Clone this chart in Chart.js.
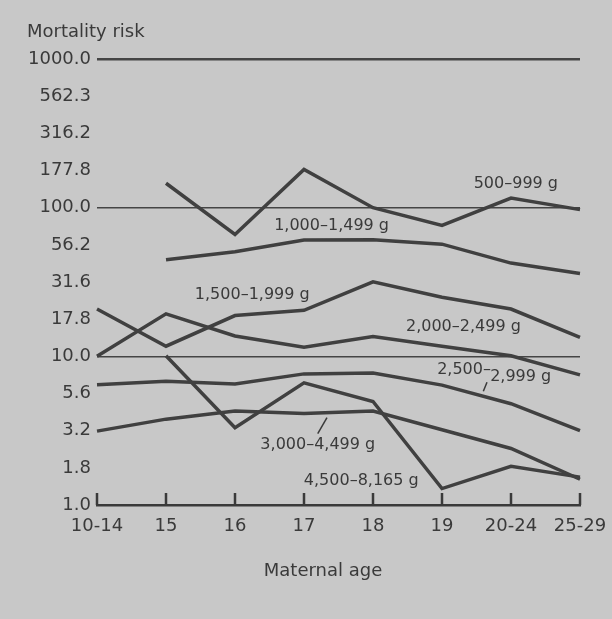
<!DOCTYPE html>
<html>
<head>
<meta charset="utf-8">
<script src="https://cdn.jsdelivr.net/npm/chart.js@4.4.1/dist/chart.umd.min.js"></script>
<style>
  html, body { margin: 0; padding: 0; background: #c8c8c8; }
  #wrap { width: 612px; height: 619px; }
</style>
</head>
<body>
<div id="wrap"><canvas id="chart" width="612" height="619"></canvas></div>
<script>
// categories and tick labels
const ageLabels = ['10-14', '15', '16', '17', '18', '19', '20-24', '25-29'];
const yTickLabels = ['1.0', '1.8', '3.2', '5.6', '10.0', '17.8', '31.6', '56.2', '100.0', '177.8', '316.2', '562.3', '1000.0'];

// mortality risk per birth weight group
const w500 = [null, 146, 66, 181, 100, 76, 116, 97];
const w1000 = [null, 44.7, 50.5, 60.5, 60.8, 56.8, 42.4, 36.1];
const w1500 = [20.8, 11.7, 18.8, 20.4, 31.7, 25.0, 20.8, 13.4];
const w2000 = [10.0, 19.3, 13.7, 11.5, 13.6, 11.7, 10.1, 7.5];
const w2500 = [6.45, 6.8, 6.52, 7.62, 7.72, 6.4, 4.8, 3.17];
const w3000 = [3.14, 3.78, 4.28, 4.12, 4.28, 3.21, 2.4, 1.49];
const w4500 = [null, 10.1, 3.31, 6.63, 4.97, 1.29, 1.82, 1.54];

const seriesNames = ['500–999 g', '1,000–1,499 g', '1,500–1,999 g', '2,000–2,499 g', '2,500–2,999 g', '3,000–4,499 g', '4,500–8,165 g'];
const seriesData = [w500, w1000, w1500, w2000, w2500, w3000, w4500];

// where the group names sit, in chart units: [category index, risk]
const nameSpots = [
    { text: '500–999 g', at: [6.07, 145] },
    { text: '1,000–1,499 g', at: [3.40, 76] },
    { text: '1,500–1,999 g', at: [2.25, 26.1] },
    { text: '2,000–2,499 g', at: [5.31, 15.9] },
    { text: '2,500–', at: [5.32, 8.11] },
    { text: '2,999 g', at: [6.14, 7.23] },
    { text: '3,000–4,499 g', at: [3.20, 2.52] },
    { text: '4,500–8,165 g', at: [3.83, 1.46] }
];
const leaders = [
    [[5.652, 6.7], [5.599, 5.83]],
    [[3.333, 3.87], [3.199, 3.02]]
];

const INK = '#3a3a3a';
const FONT = '"DejaVu Sans", sans-serif';

const decor = {
    id: 'decor',
    beforeDraw(chart) {
        const c = chart.ctx;
        c.save();
        c.fillStyle = '#c8c8c8';
        c.fillRect(0, 0, chart.width, chart.height);
        c.restore();
    },
    afterDraw(chart) {
        const c = chart.ctx;
        const xs = chart.scales.x, ys = chart.scales.y;
        const bottom = chart.chartArea.bottom;
        c.save();
        // tick marks pointing up from the age axis
        c.strokeStyle = INK;
        c.lineWidth = 2.5;
        xs.ticks.forEach((t, i) => {
            const px = xs.getPixelForTick(i);
            c.beginPath();
            c.moveTo(px, bottom);
            c.lineTo(px, bottom - 12);
            c.stroke();
        });
        // leader strokes
        c.lineWidth = 1.5;
        leaders.forEach(l => {
            c.beginPath();
            c.moveTo(xs.getPixelForValue(l[0][0]), ys.getPixelForValue(l[0][1]));
            c.lineTo(xs.getPixelForValue(l[1][0]), ys.getPixelForValue(l[1][1]));
            c.stroke();
        });
        // group names
        c.fillStyle = INK;
        c.font = '16px ' + FONT;
        c.textAlign = 'center';
        c.textBaseline = 'middle';
        nameSpots.forEach(s => {
            c.fillText(s.text, xs.getPixelForValue(s.at[0]), ys.getPixelForValue(s.at[1]));
        });
        // axis titles
        c.font = '18px ' + FONT;
        c.textBaseline = 'alphabetic';
        c.textAlign = 'left';
        c.fillText('Mortality risk', 27, 37);
        c.textAlign = 'center';
        c.fillText('Maternal age', 323, 576);
        c.restore();
    }
};

const datasets = seriesData.map((values, i) => ({
    label: seriesNames[i],
    data: values,
    borderColor: '#404040',
    borderWidth: 3.5,
    borderJoinStyle: 'miter',
    pointRadius: 0,
    tension: 0,
    fill: false
}));

new Chart(document.getElementById('chart'), {
    type: 'line',
    data: { labels: ageLabels, datasets: datasets },
    plugins: [decor],
    options: {
        responsive: false,
        animation: false,
        devicePixelRatio: 1,
        layout: { padding: { top: 59, right: 32, left: 0, bottom: 0 } },
        plugins: { legend: { display: false }, tooltip: { enabled: false } },
        scales: {
            x: {
                type: 'category',
                offset: false,
                grid: { display: false, drawTicks: false },
                border: { display: true, color: INK, width: 2.5 },
                ticks: { color: INK, font: { family: FONT, size: 18 }, padding: 11, maxRotation: 0, autoSkip: false },
                afterFit: s => { s.height = 114; s.paddingLeft = 0; s.paddingRight = 0; }
            },
            y: {
                type: 'logarithmic',
                min: 1,
                max: 1000,
                afterBuildTicks: s => { s.ticks = yTickLabels.map((t, i) => ({ value: Math.pow(10, i / 4) })); },
                afterFit: s => { s.width = 97; s.paddingTop = 0; s.paddingBottom = 0; },
                grid: {
                    drawTicks: false,
                    color: ctx => (ctx.index % 4 === 0 && ctx.index > 0) ? '#454545' : 'rgba(0,0,0,0)',
                    lineWidth: ctx => ctx.index === 12 ? 2.5 : 1.6
                },
                border: { display: false },
                ticks: {
                    color: INK,
                    font: { family: FONT, size: 18 },
                    padding: 6,
                    autoSkip: false,
                    callback: (v, i) => yTickLabels[i]
                }
            }
        }
    }
});
</script>
</body>
</html>
